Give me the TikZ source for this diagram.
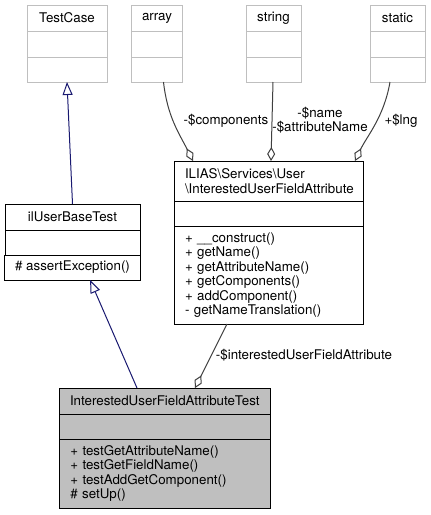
\documentclass[tikz,border=0pt]{standalone}
\usepackage{fontspec}
\setmainfont{TeX Gyre Heros}
\usepackage{xcolor}
\usepackage{tikz}
\usetikzlibrary{positioning,arrows.meta}
\definecolor{boxgray}{HTML}{BFBFBF}
\definecolor{fillgray}{HTML}{BFBFBF}
\definecolor{navy}{HTML}{191970}
\definecolor{edgegray}{HTML}{404040}

\begin{document}
\begin{tikzpicture}[x=0.75pt,y=-0.75pt,
  every node/.style={font=\fontsize{10}{10.8}\selectfont},
  part/.style={draw,line width=0.75pt,inner xsep=8.25pt,inner ysep=0pt,outer sep=0pt},
  extpart/.style={part,draw=boxgray},
  inherit/.style={draw=navy,line width=0.75pt,-{Triangle[open,length=9.75pt,width=7.5pt]}},
  aggr/.style={draw=edgegray,line width=0.75pt,-{Diamond[open,length=10.5pt,width=6pt]}}]

\useasboundingbox (0,0) rectangle (431,515);

\node[extpart,anchor=north west,minimum width=60pt,minimum height=19.5pt] (tcname) at (27,5) {TestCase};
\node[extpart,below=0pt of tcname,minimum width=60pt,minimum height=19.5pt] (tcattr) {};
\node[extpart,below=0pt of tcattr,minimum width=60pt,minimum height=18.75pt] (tcmeth) {};

\node[extpart,anchor=north west,minimum width=38.25pt,minimum height=19.5pt] (arrname) at (131,5) {array};
\node[extpart,below=0pt of arrname,minimum width=38.25pt,minimum height=19.5pt] (arrattr) {};
\node[extpart,below=0pt of arrattr,minimum width=38.25pt,minimum height=18.75pt] (arrmeth) {};

\node[extpart,anchor=north west,minimum width=41.25pt,minimum height=19.5pt] (strname) at (246,5) {string};
\node[extpart,below=0pt of strname,minimum width=41.25pt,minimum height=19.5pt] (strattr) {};
\node[extpart,below=0pt of strattr,minimum width=41.25pt,minimum height=18.75pt] (strmeth) {};

\node[extpart,anchor=north west,minimum width=41.25pt,minimum height=19.5pt] (statname) at (370,5) {static};
\node[extpart,below=0pt of statname,minimum width=41.25pt,minimum height=19.5pt] (statattr) {};
\node[extpart,below=0pt of statattr,minimum width=41.25pt,minimum height=18.75pt] (statmeth) {};

\node[part,anchor=north west,minimum width=141.75pt,minimum height=30pt,text width=125.25pt,align=left] (iliasname) at (174,161) {ILIAS\textbackslash Services\textbackslash User\\\textbackslash InterestedUserFieldAttribute};
\node[part,below=0pt of iliasname,minimum width=141.75pt,minimum height=18.75pt] (iliasattr) {};
\node[part,below=0pt of iliasattr,minimum width=141.75pt,minimum height=73.5pt,text width=125.25pt,align=left] (iliasmeth) {+ \_\_construct()\\+ getName()\\+ getAttributeName()\\+ getComponents()\\+ addComponent()\\- getNameTranslation()};

\node[part,anchor=north west,minimum width=101.25pt,minimum height=19.5pt] (basename) at (5,204) {ilUserBaseTest};
\node[part,below=0pt of basename,minimum width=101.25pt,minimum height=18.75pt] (baseattr) {};
\node[part,below=0pt of baseattr,minimum width=101.25pt,minimum height=18.75pt] (basemeth) {\# assertException()};

\node[part,fill=fillgray,anchor=north west,minimum width=158.25pt,minimum height=19.5pt] (testname) at (59,388) {InterestedUserFieldAttributeTest};
\node[part,fill=fillgray,below=0pt of testname,minimum width=158.25pt,minimum height=18.75pt] (testattr) {};
\node[part,fill=fillgray,below=0pt of testattr,minimum width=158.25pt,minimum height=51.75pt,text width=141.75pt,align=left] (testmeth) {+ testGetAttributeName()\\+ testGetFieldName()\\+ testAddGetComponent()\\\# setUp()};

\draw[inherit] (basename.north) -- (tcmeth.south);
\draw[inherit] ([xshift=58.5pt]testname.north west) -- ([xshift=64.5pt]basemeth.south west);

\draw[aggr] ([xshift=24pt]arrmeth.south west) .. controls +(4,35) and +(-14,-28) .. ([xshift=14.25pt]iliasname.north west);
\draw[aggr] ([xshift=20.25pt]strmeth.south west) -- ([xshift=72.75pt]iliasname.north west);
\draw[aggr] ([xshift=15pt]statmeth.south west) .. controls +(-6,35) and +(12,-25) .. ([xshift=135.75pt]iliasname.north west);
\draw[aggr] ([xshift=39.75pt]iliasmeth.south west) -- ([xshift=102pt]testname.north west);

\node (lcomp) at (226,121) {-\$components};
\node[align=center] (lname) at (320,120) {-\$name\\-\$attributeName};
\node (llng) at (401,121) {+\$lng};
\node (lattr) at (304,355) {-\$interestedUserFieldAttribute};

\end{tikzpicture}
\end{document}
